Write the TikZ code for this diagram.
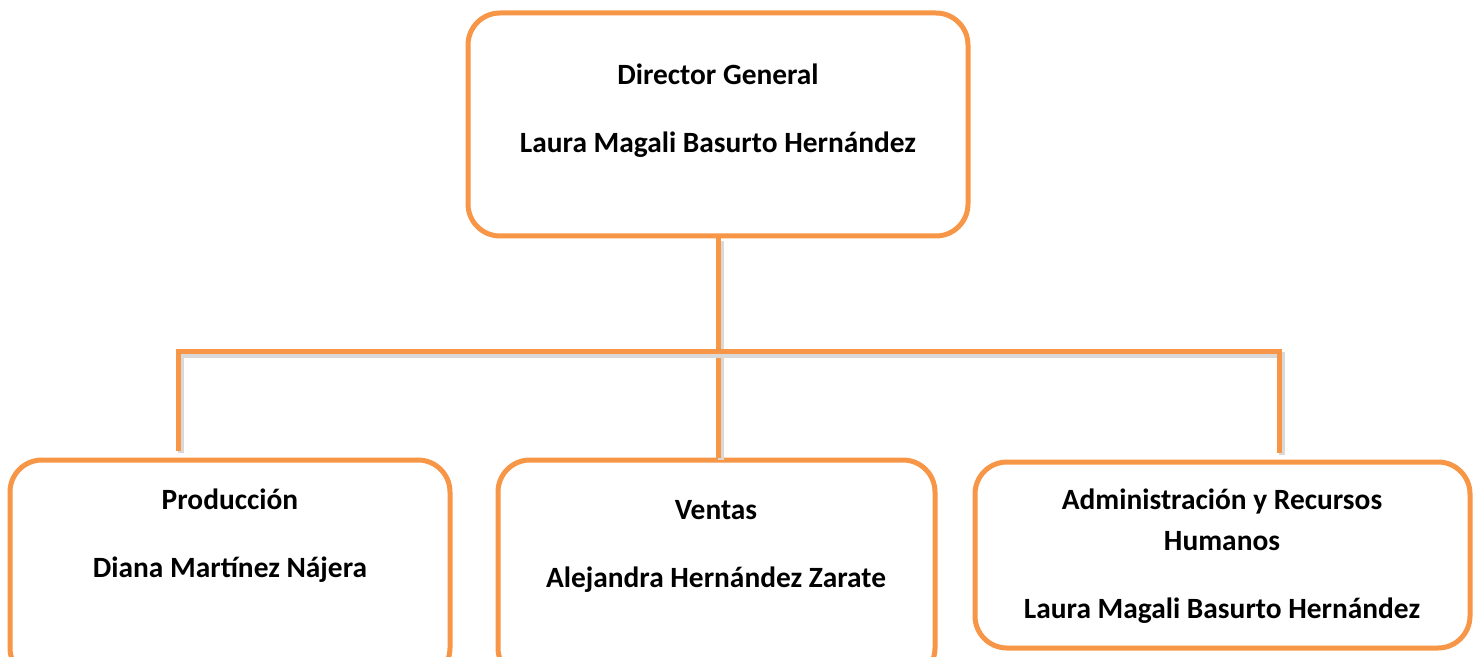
\documentclass[tikz,border=0pt]{standalone}
\usepackage{fontspec}
\setmainfont{Carlito}
\definecolor{naranja}{HTML}{F79646}

\begin{document}
\begin{tikzpicture}[x=0.5pt, y=-0.5pt,
    caja/.style={draw=naranja, line width=2.5pt, rounded corners=16pt, fill=white},
    texto/.style={align=center, font=\fontsize{14.7}{20.5}\selectfont\bfseries},
    linea/.style={draw=naranja, line width=2.5pt,
        preaction={draw=black!15, line width=3pt, transform canvas={shift={(1.3pt,-1.3pt)}}}}]

    % Marco
    \useasboundingbox (0,0) rectangle (1476,657);
    \clip (0,0) rectangle (1476,657);

    % Director General
    \node[caja, minimum width=250pt, minimum height=111.5pt] (dir) at (718,124.5) {};
    \node[texto] (dirT) at (718,111) {Director General\\[13.5pt]Laura Magali Basurto Hernández};

    % Producción
    \node[caja, minimum width=220pt, minimum height=110pt] (pro) at (230,570) {};
    \node[texto] (proT) at (230,536) {Producción\\[13.5pt]Diana Martínez Nájera};

    % Ventas
    \node[caja, minimum width=218.5pt, minimum height=110pt] (ven) at (716.5,570) {};
    \node[texto] (venT) at (716,546) {Ventas\\[13.5pt]Alejandra Hernández Zarate};

    % Administración y Recursos Humanos
    \node[caja, minimum width=247.5pt, minimum height=93pt] (adm) at (1222.5,555) {};
    \node[texto] (admT) at (1222,556) {Administración y Recursos\\Humanos\\[13.5pt]Laura Magali Basurto Hernández};

    % Conexiones
    \coordinate (izq) at (178,352);
    \coordinate (der) at (1279,352);
    \draw[linea] (dir.south) -- (dir.south |- ven.north);
    \draw[linea] ([yshift=3.5pt]izq |- pro.north) -- (izq) -- (der) -- ([yshift=3.5pt]der |- adm.north);

\end{tikzpicture}
\end{document}
